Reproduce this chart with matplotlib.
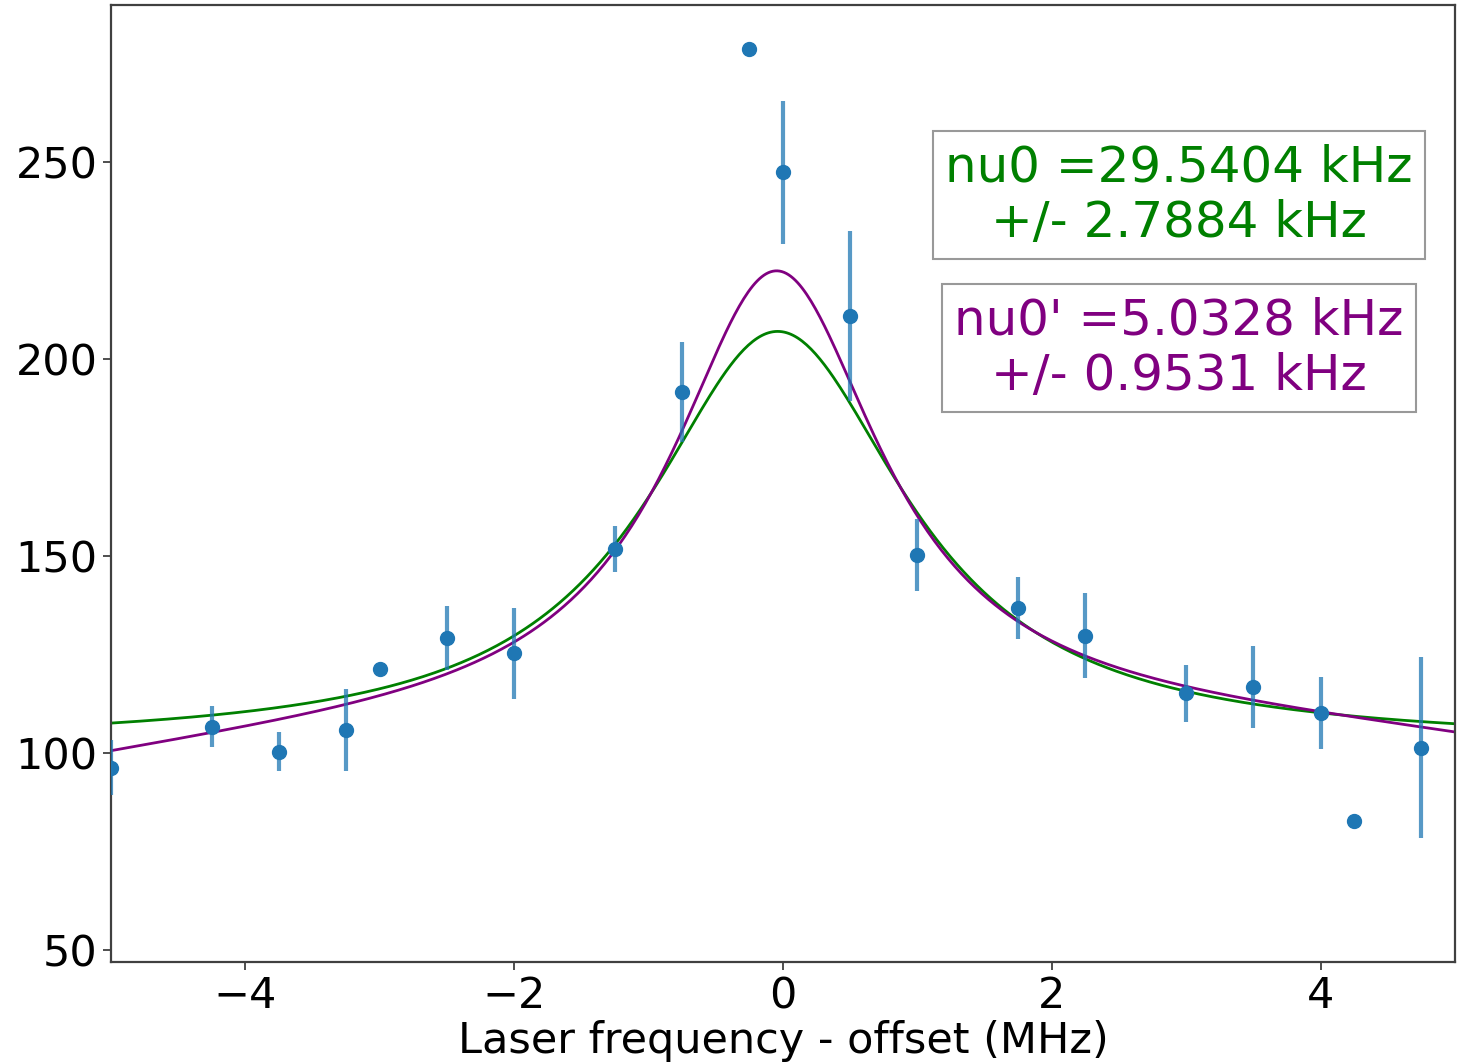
import numpy as np
import matplotlib
matplotlib.use("Agg")
import matplotlib.pyplot as plt

# Measured signal vs laser detuning
freq = [-5.0, -4.25, -3.75, -3.25, -3.0, -2.5, -2.0, -1.25, -0.75, -0.25,
        0.0, 0.5, 1.0, 1.75, 2.25, 3.0, 3.5, 4.0, 4.25, 4.75]
counts = [96.3, 106.7, 100.3, 105.8, 121.2, 129.2, 125.3, 151.8, 191.7, 278.7,
          247.4, 211.0, 150.3, 136.8, 129.7, 115.1, 116.7, 110.2, 82.8, 101.3]
counts_err = [7.0, 5.2, 5.0, 10.5, 0.0, 8.1, 11.5, 5.9, 12.7, 0.0,
              18.1, 21.6, 9.1, 7.8, 10.8, 7.2, 10.4, 9.2, 0.0, 23.0]

# Lorentzian fit parameters: offset, amplitude, centre, half-width,
# linear and quadratic background terms
fit_green = dict(offset=102.0, amp=105.0, x0=-0.04, hwhm=1.175,
                 slope=0.0, curv=0.0)
fit_purple = dict(offset=109.0, amp=113.4, x0=-0.05, hwhm=0.95,
                  slope=0.53, curv=-0.40)

label_green = "nu0 =29.5404 kHz\n+/- 2.7884 kHz"
label_purple = "nu0' =5.0328 kHz\n+/- 0.9531 kHz"


def lorentz(x, offset, amp, x0, hwhm, slope, curv):
    return (offset + slope * x + curv * (x - x0) ** 2
            + amp / (1.0 + ((x - x0) / hwhm) ** 2))


fig = plt.figure(figsize=(14.58, 10.64), dpi=100)
ax = fig.add_axes([0.0761, 0.0959, 0.9219, 0.8994])

xs = np.linspace(-5, 5, 600)
ax.plot(xs, lorentz(xs, **fit_green), color="green", lw=2, zorder=2)
ax.plot(xs, lorentz(xs, **fit_purple), color="purple", lw=2, zorder=2)

ax.errorbar(freq, counts, yerr=counts_err, fmt="o", ms=10, color="#1f77b4",
            ecolor=(0.122, 0.467, 0.706, 0.75), elinewidth=3, capsize=0,
            zorder=3)

ax.set_xlim(-5, 5)
ax.set_ylim(46.95, 289.85)
ax.set_xticks([-4, -2, 0, 2, 4])
ax.set_yticks([50, 100, 150, 200, 250])
ax.tick_params(labelsize=31, length=6, width=1.3, color="0.25")
for sp in ax.spines.values():
    sp.set_linewidth(1.6)
    sp.set_color("0.25")

ax.set_xlabel("Laser frequency - offset (MHz)", fontsize=31, labelpad=2)

box = dict(boxstyle="square,pad=0.25", facecolor="white", edgecolor="0.6",
           linewidth=1.5)
ax.text(0.7946, 0.8015, label_green, transform=ax.transAxes, fontsize=36,
        color="green", ha="center", va="center", multialignment="center",
        bbox=box, linespacing=1.2)
ax.text(0.7946, 0.6416, label_purple, transform=ax.transAxes, fontsize=36,
        color="purple", ha="center", va="center", multialignment="center",
        bbox=box, linespacing=1.2)

fig.savefig("out.png", dpi=100)
